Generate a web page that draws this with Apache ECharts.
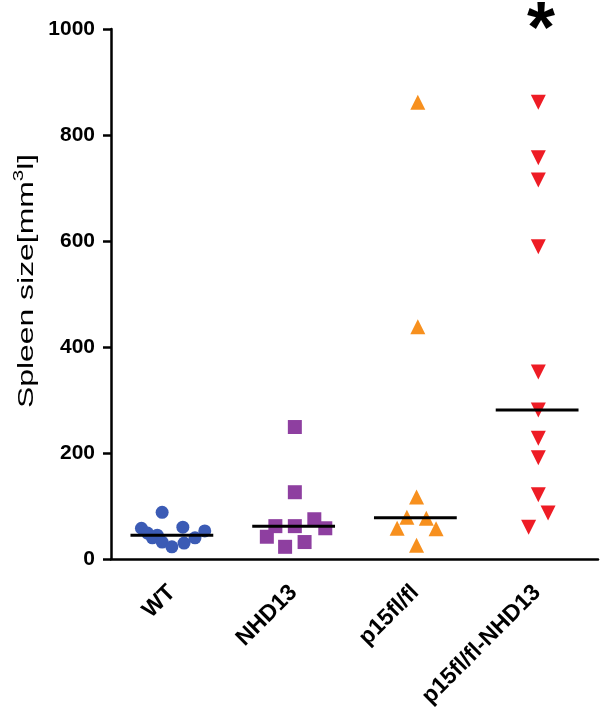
<!DOCTYPE html>
<html>
<head>
<meta charset="utf-8">
<script src="https://cdn.jsdelivr.net/npm/echarts@6/dist/echarts.min.js"></script>
<style>html,body{margin:0;padding:0;background:#fff;}#chart{width:600px;height:713px;}</style>
</head>
<body>
<div id="chart"></div>
<script>
// Categories and tick labels
var categories = ['WT', 'NHD13', 'p15fl/fl', 'p15fl/fl-NHD13'];
var yTicks = [0, 200, 400, 600, 800, 1000];

// Spleen size values per group (mm3)
var wtValues    = [88, 58, 60, 53, 49, 45, 40, 32, 23, 30, 40];
var nhd13Values = [249, 126, 62, 62, 75, 58, 42, 23, 32];
var p15Values   = [862, 438, 117, 79, 77, 58, 57, 26];
var p15nhdValues = [862, 757, 715, 589, 353, 281, 228, 191, 121, 87, 60];

// Horizontal jitter of each point within its column (category units)
var wtJitter    = [-0.08, -0.25, 0.09, 0.27, -0.20, -0.12, -0.16, -0.08, 0.0, 0.10, 0.19];
var nhd13Jitter = [0.01, 0.01, -0.15, 0.01, 0.17, 0.26, -0.22, -0.07, 0.09];
var p15Jitter   = [0.02, 0.02, 0.01, -0.07, 0.09, -0.15, 0.17, 0.01];
var p15nhdJitter = [0.01, 0.01, 0.01, 0.01, 0.01, 0.01, 0.01, 0.01, 0.01, 0.09, -0.07];

function pts(idx, vals, jit) {
  return vals.map(function (v, i) { return [idx + jit[i], v]; });
}
function median(vals) {
  var s = vals.slice().sort(function (a, b) { return a - b; });
  var n = s.length;
  return n % 2 ? s[(n - 1) / 2] : (s[n / 2 - 1] + s[n / 2]) / 2;
}
var HALF = 0.34;
function medLine(idx, vals) {
  var m = median(vals);
  return [[idx - HALF, m], [idx + HALF, m]];
}

var chart = echarts.init(document.getElementById('chart'));
var font = 'Arial, "Liberation Sans", sans-serif';
var groups = [
  {vals: wtValues, jit: wtJitter, symbol: 'circle', size: 13, color: '#3b5bb5', rot: 0},
  {vals: nhd13Values, jit: nhd13Jitter, symbol: 'rect', size: 14, color: '#8e3fa0', rot: 0},
  {vals: p15Values, jit: p15Jitter, symbol: 'triangle', size: 15, color: '#f7901e', rot: 0},
  {vals: p15nhdValues, jit: p15nhdJitter, symbol: 'triangle', size: 15, color: '#ee1c25', rot: 180}
];
var series = [];
groups.forEach(function (g, i) {
  series.push({
    type: 'scatter', xAxisIndex: 1, data: pts(i, g.vals, g.jit),
    symbol: g.symbol, symbolSize: g.size, symbolRotate: g.rot,
    itemStyle: {color: g.color, opacity: 1}, z: 3, silent: true
  });
});
groups.forEach(function (g, i) {
  series.push({
    type: 'line', xAxisIndex: 1, data: medLine(i, g.vals),
    symbol: 'none', lineStyle: {color: '#000', width: 3}, z: 4, silent: true
  });
});

chart.setOption({
  animation: false,
  backgroundColor: '#fff',
  grid: {left: 111, right: 2, top: 29, bottom: 154},
  xAxis: [
    {
      type: 'category', data: categories, boundaryGap: true,
      axisLine: {onZero: false, lineStyle: {color: '#000', width: 2.5}},
      axisTick: {alignWithLabel: true, length: 8, lineStyle: {color: '#000', width: 2.5}},
      axisLabel: {rotate: 45, color: '#000', fontWeight: 'bold', fontSize: 23, fontFamily: font, margin: 30},
      splitLine: {show: false}
    },
    {
      type: 'value', min: -0.5, max: 3.5, show: false, splitLine: {show: false}
    }
  ],
  yAxis: {
    type: 'value', min: yTicks[0], max: yTicks[yTicks.length - 1], interval: 200,
    axisLine: {show: true, onZero: false, lineStyle: {color: '#000', width: 2.5}},
    axisTick: {show: true, length: 8, lineStyle: {color: '#000', width: 2.5}},
    axisLabel: {color: '#000', fontWeight: 'bold', fontSize: 21, fontFamily: font, margin: 16,
      formatter: function (v) { return String(v); }},
    splitLine: {show: false}
  },
  graphic: [
    {
      type: 'text', x: 25, y: 281, rotation: Math.PI / 2, scaleX: 1.45,
      style: {
        text: '{a|Spleen size[mm}{s|3}{a|l]}',
        align: 'center', verticalAlign: 'middle',
        rich: {
          a: {fontSize: 22, fontFamily: font, fill: '#000', lineHeight: 26, verticalAlign: 'bottom'},
          s: {fontSize: 14, fontFamily: font, fill: '#000', lineHeight: 26, verticalAlign: 'top'}
        }
      }
    },
    {
      type: 'text', left: 527, top: -4,
      style: {text: '*', fontSize: 72, fontWeight: 'bold', fontFamily: font, fill: '#000'}
    }
  ],
  series: series
});
</script>
</body>
</html>
